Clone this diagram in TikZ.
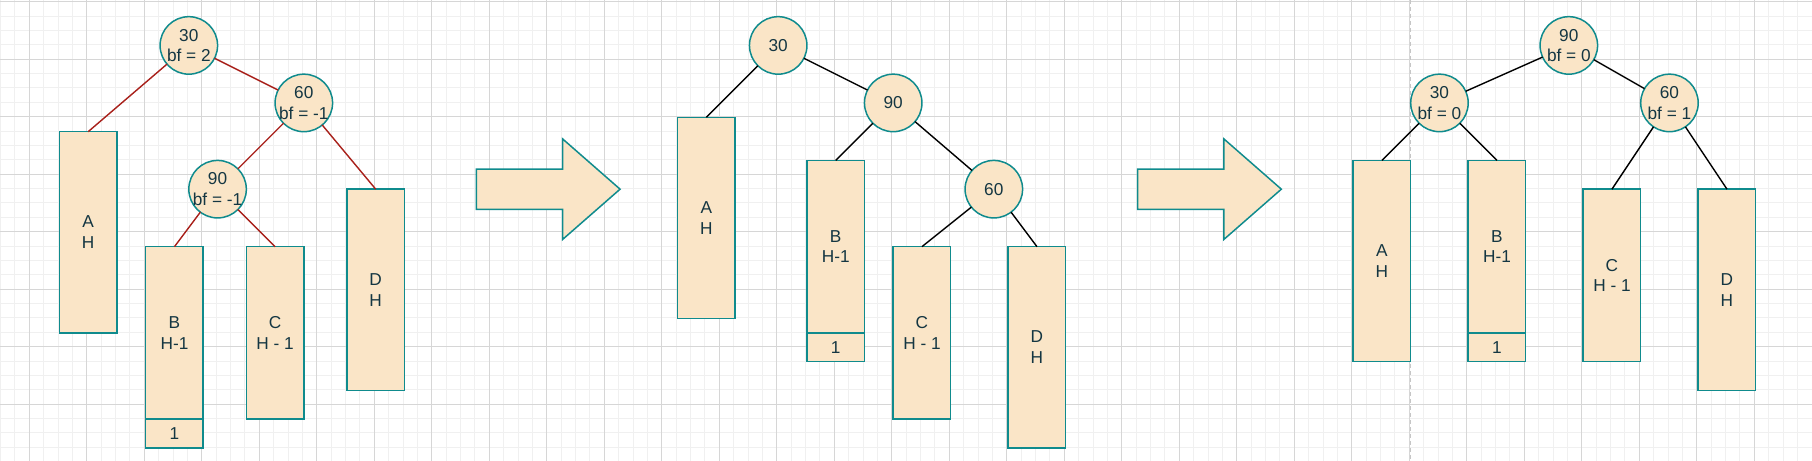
\documentclass[tikz,border=0pt]{standalone}
\usepackage{fontspec}
\setmainfont{Liberation Sans}
\usepackage{tikz}
\usetikzlibrary{positioning}
\usepackage{xcolor}

\definecolor{keyfill}{HTML}{FAE5C7}
\definecolor{keyline}{HTML}{0F8B8D}
\definecolor{arcred}{HTML}{A8201A}
\definecolor{keytext}{HTML}{143642}
\newcommand{\keyline}[1]{\makebox[0pt]{#1}}

\begin{document}
\begin{tikzpicture}[x=14.375pt, y=-14.375pt,
    font=\fontsize{17.25pt}{20.7pt}\selectfont,
    subtree/.style={rectangle, draw=keyline, fill=keyfill, line width=1.5pt,
      minimum width=57.5pt, inner sep=0pt, outer sep=0pt,
      align=center, text=keytext},
    tallbox/.style={subtree, minimum height=201.25pt},
    midbox/.style={subtree, minimum height=172.5pt},
    onebox/.style={subtree, minimum height=28.75pt},
    key/.style={circle, draw=keyline, fill=keyfill, line width=1.5pt,
      minimum size=57.5pt, inner sep=0pt, outer sep=0pt,
      align=center, text=keytext},
    redarc/.style={draw=arcred, line width=1.4pt},
    blackarc/.style={draw=black, line width=1.4pt}]
  \useasboundingbox (-2.136,-0.16) rectangle (123.917,31.91);
  % Grid
  \begin{scope}[shift={(-0.1,-0.04)}]
    \foreach \i in {-2,...,123}
      \draw[gray!12, line width=1pt] (\i,-0.2) -- (\i,32);
    \foreach \j in {0,...,32}
      \draw[gray!12, line width=1pt] (-2.2,\j) -- (124,\j);
    \foreach \i in {0,4,...,120}
      \draw[gray!32, line width=1pt] (\i,-0.2) -- (\i,32);
    \foreach \j in {0,4,...,32}
      \draw[gray!32, line width=1pt] (-2.2,\j) -- (124,\j);
  \end{scope}
  \draw[gray!45, line width=1pt, dash pattern=on 4pt off 3pt]
    (96,-0.16) -- (96,31.91);

  % Arrows
  \foreach \s in {31,77}
    \filldraw[fill=keyfill, draw=keyline, line width=1.5pt]
      (\s,11.6) -- (\s+6,11.6) -- (\s+6,9.5) -- (\s+10,13)
      -- (\s+6,16.5) -- (\s+6,14.4) -- (\s,14.4) -- cycle;

  % Before: unbalanced at 30
  \node[key] (one30) at (11,3) {\keyline{30}\\\keyline{bf = 2}};
  \node[key] (one60) at (19,7) {\keyline{60}\\\keyline{bf = -1}};
  \node[key] (one90) at (13,13) {\keyline{90}\\\keyline{bf = -1}};
  \node[tallbox] (oneA) at (4,16) {A\\H};
  \node[midbox] (oneB) at (10,23) {B\\H-1};
  \node[onebox, below=0pt of oneB] (oneX) {1};
  \node[midbox] (oneC) at (17,23) {C\\H - 1};
  \node[tallbox] (oneD) at (24,20) {D\\H};
  \draw[redarc] (one30) -- (oneA.north);
  \draw[redarc] (one30) -- (one60);
  \draw[redarc] (one60) -- (one90);
  \draw[redarc] (one60) -- (oneD.north);
  \draw[redarc] (one90) -- (oneB.north);
  \draw[redarc] (one90) -- (oneC.north);

  % After right rotation at 60
  \node[key] (two30) at (52,3) {30};
  \node[key] (two90) at (60,7) {90};
  \node[key] (two60) at (67,13) {60};
  \node[tallbox] (twoA) at (47,15) {A\\H};
  \node[midbox] (twoB) at (56,17) {B\\H-1};
  \node[onebox, below=0pt of twoB] (twoX) {1};
  \node[midbox] (twoC) at (62,23) {C\\H - 1};
  \node[tallbox] (twoD) at (70,24) {D\\H};
  \draw[blackarc] (two30) -- (twoA.north);
  \draw[blackarc] (two30) -- (two90);
  \draw[blackarc] (two90) -- (twoB.north);
  \draw[blackarc] (two90) -- (two60);
  \draw[blackarc] (two60) -- (twoC.north);
  \draw[blackarc] (two60) -- (twoD.north);

  % After left rotation at 30
  \node[key] (three90) at (107,3) {\keyline{90}\\\keyline{bf = 0}};
  \node[key] (three30) at (98,7) {\keyline{30}\\\keyline{bf = 0}};
  \node[key] (three60) at (114,7) {\keyline{60}\\\keyline{bf = 1}};
  \node[tallbox] (threeA) at (94,18) {A\\H};
  \node[midbox] (threeB) at (102,17) {B\\H-1};
  \node[onebox, below=0pt of threeB] (threeX) {1};
  \node[midbox] (threeC) at (110,19) {C\\H - 1};
  \node[tallbox] (threeD) at (118,20) {D\\H};
  \draw[blackarc] (three90) -- (three30);
  \draw[blackarc] (three90) -- (three60);
  \draw[blackarc] (three30) -- (threeA.north);
  \draw[blackarc] (three30) -- (threeB.north);
  \draw[blackarc] (three60) -- (threeC.north);
  \draw[blackarc] (three60) -- (threeD.north);
\end{tikzpicture}
\end{document}
